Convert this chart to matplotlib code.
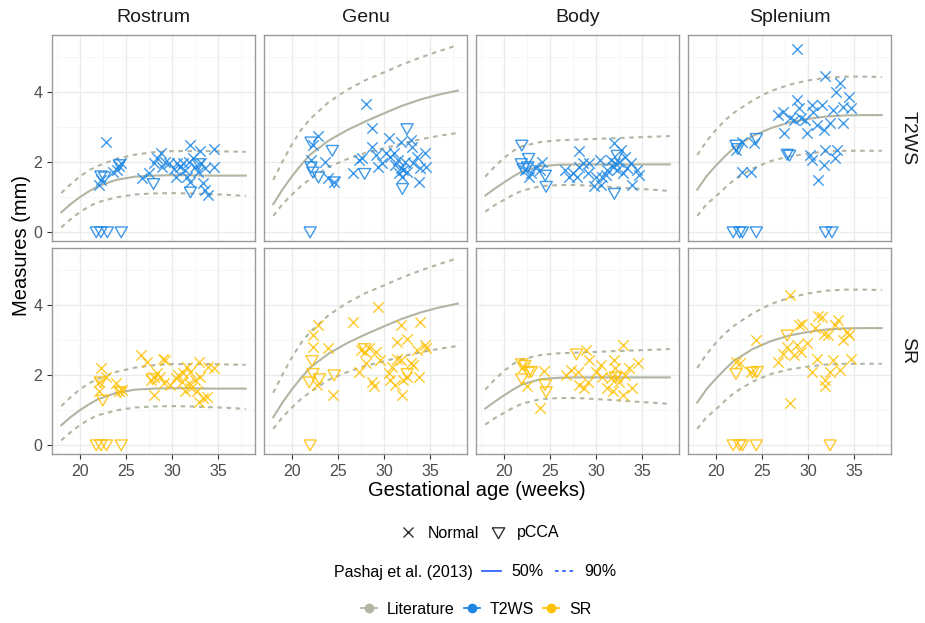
import matplotlib
matplotlib.use("Agg")
import matplotlib.pyplot as plt
from matplotlib.lines import Line2D

plt.rcParams['font.family'] = ['Liberation Sans', 'DejaVu Sans']

# literature curves (Pashaj et al. 2013)
lit_age = [18, 19, 20, 21, 22, 24, 26, 28, 30, 32, 34, 36, 38]
rostrum_lit_mid = [0.55, 0.78, 0.98, 1.15, 1.30, 1.48, 1.57, 1.60, 1.61, 1.61, 1.60, 1.60, 1.60]
rostrum_lit_hi = [1.10, 1.35, 1.57, 1.75, 1.88, 2.08, 2.20, 2.27, 2.30, 2.30, 2.30, 2.29, 2.28]
rostrum_lit_lo = [0.12, 0.35, 0.55, 0.72, 0.84, 0.98, 1.06, 1.09, 1.10, 1.09, 1.07, 1.05, 1.02]
genu_lit_mid = [0.78, 1.20, 1.57, 1.90, 2.20, 2.60, 2.90, 3.15, 3.38, 3.60, 3.78, 3.92, 4.03]
genu_lit_hi = [1.48, 2.00, 2.48, 2.90, 3.22, 3.70, 4.05, 4.33, 4.55, 4.78, 4.98, 5.16, 5.33]
genu_lit_lo = [0.45, 0.78, 1.05, 1.30, 1.50, 1.85, 2.07, 2.25, 2.38, 2.52, 2.64, 2.74, 2.82]
body_lit_mid = [1.03, 1.22, 1.40, 1.57, 1.72, 1.87, 1.91, 1.92, 1.92, 1.92, 1.92, 1.92, 1.92]
body_lit_hi = [1.57, 1.85, 2.10, 2.30, 2.44, 2.56, 2.61, 2.63, 2.65, 2.67, 2.69, 2.71, 2.73]
body_lit_lo = [0.57, 0.75, 0.90, 1.05, 1.17, 1.30, 1.33, 1.33, 1.30, 1.27, 1.23, 1.20, 1.16]
splenium_lit_mid = [1.20, 1.58, 1.88, 2.15, 2.40, 2.73, 2.96, 3.12, 3.22, 3.29, 3.32, 3.33, 3.33]
splenium_lit_hi = [2.19, 2.58, 2.90, 3.18, 3.40, 3.75, 4.02, 4.20, 4.32, 4.40, 4.43, 4.43, 4.42]
splenium_lit_lo = [0.45, 0.78, 1.00, 1.25, 1.48, 1.80, 2.02, 2.15, 2.23, 2.29, 2.31, 2.31, 2.31]

# T2WS measurements
rostrum_t2ws_normal_age = [22.9, 22.1, 22.3, 23.6, 24.0, 24.3, 24.5, 26.8, 27.5, 28.0, 28.4, 28.8, 28.9,
                           29.3, 29.7, 30.2, 30.4, 30.5, 30.9, 31.25, 31.4, 31.6, 31.8, 32.0, 32.0, 32.3,
                           32.5, 32.8, 33.0, 33.1, 33.4, 33.6, 33.6, 33.9, 34.6, 34.6]
rostrum_t2ws_normal_mm = [2.57, 1.33, 1.48, 1.69, 1.76, 1.88, 1.95, 1.52, 1.67, 1.95, 2.10, 2.24, 1.86,
                          2.00, 1.95, 1.78, 1.57, 1.95, 1.86, 1.95, 1.76, 1.57, 2.00, 2.48, 1.43, 2.10,
                          1.86, 1.71, 2.29, 1.95, 1.38, 1.81, 1.19, 1.05, 1.86, 2.35]
rostrum_t2ws_pcca_age = [21.8, 22.3, 23.0, 24.5, 22.3, 22.7, 24.3, 28.0, 32.0, 32.9]
rostrum_t2ws_pcca_mm = [0.0, 0.0, 0.0, 0.0, 1.60, 1.57, 1.92, 1.38, 1.14, 1.95]

genu_t2ws_normal_age = [22.9, 22.3, 22.1, 23.6, 23.9, 24.6, 26.6, 27.3, 27.6, 28.1, 28.75, 28.75, 29.1,
                        29.4, 29.8, 30.2, 30.5, 30.7, 31.1, 31.25, 31.5, 31.8, 31.8, 32.0, 32.3, 32.5,
                        32.9, 33.0, 33.2, 33.6, 33.75, 33.9, 34.5, 34.6, 31.6, 32.1]
genu_t2ws_normal_mm = [2.73, 2.48, 2.05, 2.00, 1.52, 1.43, 1.67, 2.05, 2.10, 3.65, 2.95, 2.43, 2.19,
                       1.86, 1.95, 2.24, 2.67, 2.14, 2.24, 1.90, 2.05, 2.57, 1.81, 1.57, 2.00, 1.71,
                       2.62, 2.43, 1.95, 2.14, 1.43, 1.81, 2.24, 1.86, 1.67, 1.76]
genu_t2ws_pcca_age = [22.0, 22.1, 22.1, 22.3, 22.9, 24.4, 24.6, 27.9, 32.5, 32.0]
genu_t2ws_pcca_mm = [0.0, 2.57, 1.86, 1.71, 1.57, 2.33, 1.43, 1.67, 2.95, 1.24]

body_t2ws_normal_age = [22.3, 22.7, 23.0, 23.4, 24.1, 23.9, 26.6, 27.1, 27.5, 27.9, 28.2, 28.2, 28.6,
                        29.1, 29.3, 29.8, 30.0, 30.4, 30.5, 30.7, 31.1, 31.25, 31.6, 31.8, 32.0, 32.1,
                        32.3, 32.7, 32.9, 33.2, 33.4, 33.75, 33.9, 34.5, 34.7, 32.5]
body_t2ws_normal_mm = [1.76, 1.57, 1.67, 1.86, 2.00, 1.76, 1.76, 1.57, 1.67, 1.57, 2.29, 1.86, 1.95,
                       1.67, 1.95, 1.29, 1.57, 2.05, 1.33, 1.57, 1.62, 1.76, 2.05, 1.86, 2.52, 1.95,
                       1.76, 2.33, 1.67, 2.14, 1.81, 1.95, 1.33, 1.76, 1.62, 2.00]
body_t2ws_pcca_age = [21.96, 21.9, 22.1, 22.7, 22.6, 24.5, 24.6, 32.0, 32.3]
body_t2ws_pcca_mm = [2.48, 1.95, 1.81, 2.10, 1.86, 1.62, 1.30, 1.10, 2.19]

splenium_t2ws_normal_age = [28.8, 31.9, 33.5, 33.0, 34.5, 34.7, 33.8, 28.8, 29.0, 26.7, 27.3, 28.1, 29.2,
                            28.5, 30.4, 30.6, 31.5, 31.0, 31.7, 32.4, 32.75, 33.8, 27.4, 29.9, 29.7,
                            22.9, 24.2, 22.9, 23.8, 30.25, 30.4, 31.9, 33.1, 32.9, 31.7, 31.1, 22.2]
splenium_t2ws_normal_mm = [5.22, 4.45, 4.24, 4.00, 3.86, 3.52, 3.57, 3.76, 3.52, 3.33, 3.43, 3.24, 3.24,
                           3.19, 3.62, 3.43, 3.62, 3.05, 2.90, 3.10, 3.48, 3.10, 2.81, 2.81, 3.19,
                           2.57, 2.52, 1.71, 1.71, 2.19, 2.05, 2.33, 2.33, 2.10, 1.90, 1.48, 2.33]
splenium_t2ws_pcca_age = [21.9, 22.6, 22.9, 24.4, 31.9, 32.6, 22.2, 22.4, 24.4, 27.75, 28.0]
splenium_t2ws_pcca_mm = [0.0, 0.0, 0.0, 0.0, 0.0, 0.0, 2.48, 2.38, 2.67, 2.22, 2.19]

# SR measurements
rostrum_sr_normal_age = [22.3, 22.1, 22.1, 22.9, 23.9, 24.3, 24.6, 26.6, 27.3, 27.7, 28.0, 28.0, 28.4,
                         28.75, 29.0, 29.2, 29.1, 29.8, 30.4, 30.7, 31.1, 31.25, 31.4, 31.6, 31.8, 32.0,
                         32.1, 32.5, 32.7, 32.9, 33.0, 32.9, 33.4, 33.75, 33.9, 34.6]
rostrum_sr_normal_mm = [2.18, 1.80, 1.52, 1.94, 1.75, 1.52, 1.56, 2.56, 2.37, 1.85, 1.94, 1.42, 2.04,
                        1.94, 2.46, 2.41, 1.75, 1.70, 1.89, 1.99, 1.80, 2.04, 1.52, 2.23, 1.75, 2.08,
                        1.61, 1.85, 1.52, 2.37, 1.94, 1.23, 1.33, 1.37, 2.23, 2.18]
rostrum_sr_pcca_age = [21.8, 22.3, 22.9, 24.5, 22.25, 22.5, 24.4, 27.9]
rostrum_sr_pcca_mm = [0.0, 0.0, 0.0, 0.0, 1.80, 1.28, 1.52, 1.89]

genu_sr_normal_age = [22.3, 22.9, 22.3, 23.9, 24.5, 22.7, 26.6, 27.3, 27.5, 27.9, 28.0, 28.4, 28.75,
                      28.9, 29.4, 29.1, 29.6, 30.5, 30.7, 30.9, 31.25, 31.4, 31.8, 31.8, 32.0, 32.1,
                      32.5, 32.5, 32.9, 33.2, 33.6, 33.75, 33.9, 34.5, 34.6, 31.4]
genu_sr_normal_mm = [3.12, 3.43, 2.79, 2.75, 1.42, 1.70, 3.50, 2.08, 2.70, 2.65, 2.32, 2.75, 1.80,
                     1.66, 3.93, 2.65, 2.41, 2.04, 1.85, 2.23, 1.70, 2.94, 3.41, 2.41, 1.42, 1.85,
                     3.03, 1.94, 2.32, 2.27, 2.70, 1.94, 3.50, 2.84, 2.75, 2.46]
genu_sr_pcca_age = [22.0, 22.2, 21.9, 22.3, 23.0, 24.6, 27.9, 32.5]
genu_sr_pcca_mm = [0.0, 2.41, 1.80, 2.04, 1.89, 2.00, 2.75, 2.04]

body_sr_normal_age = [22.1, 22.5, 24.4, 23.9, 26.8, 27.3, 28.0, 28.2, 28.75, 28.9, 29.3, 29.1, 30.0,
                      30.5, 30.7, 31.25, 31.6, 31.8, 32.0, 32.1, 32.3, 32.5, 32.9, 32.9, 33.2, 33.6,
                      33.9, 34.6]
body_sr_normal_mm = [2.23, 1.66, 2.10, 1.04, 1.99, 2.13, 2.08, 1.70, 1.61, 2.70, 2.41, 1.80, 2.08,
                     2.27, 1.94, 1.61, 1.89, 1.52, 2.41, 2.18, 1.94, 1.80, 1.42, 2.84, 1.99, 2.18,
                     1.61, 2.32]
body_sr_pcca_age = [21.96, 22.3, 22.7, 23.0, 21.96, 24.5, 24.6, 27.9, 32.1]
body_sr_pcca_mm = [2.32, 2.27, 2.08, 2.10, 1.89, 1.72, 1.52, 2.60, 1.94]

splenium_sr_normal_age = [28.1, 28.1, 24.4, 22.2, 22.6, 23.8, 26.7, 27.3, 27.75, 28.5, 28.8, 29.0, 29.4,
                          29.2, 29.9, 30.4, 30.8, 31.0, 31.1, 31.5, 31.7, 31.9, 31.9, 32.2, 32.4, 32.75,
                          32.9, 33.3, 33.5, 33.8, 34.2, 34.5, 34.7]
splenium_sr_normal_mm = [4.28, 1.18, 3.00, 2.37, 2.32, 2.08, 2.37, 2.60, 2.79, 2.56, 2.84, 3.41, 3.46,
                         2.65, 2.89, 2.08, 3.32, 2.46, 3.69, 3.65, 3.17, 1.85, 1.66, 3.12, 2.08, 2.41,
                         3.41, 3.55, 2.13, 2.98, 3.22, 3.12, 2.46]
splenium_sr_pcca_age = [21.9, 22.6, 22.9, 24.4, 32.4, 22.2, 24.0, 24.5, 27.75]
splenium_sr_pcca_mm = [0.0, 0.0, 0.0, 0.0, 0.0, 2.04, 2.08, 2.10, 3.14]

regions = ["Rostrum", "Genu", "Body", "Splenium"]
methods = ["T2WS", "SR"]
lit_curves = {
    "Rostrum": (rostrum_lit_mid, rostrum_lit_lo, rostrum_lit_hi),
    "Genu": (genu_lit_mid, genu_lit_lo, genu_lit_hi),
    "Body": (body_lit_mid, body_lit_lo, body_lit_hi),
    "Splenium": (splenium_lit_mid, splenium_lit_lo, splenium_lit_hi),
}
points = {
    ("Rostrum", "T2WS"): (rostrum_t2ws_normal_age, rostrum_t2ws_normal_mm, rostrum_t2ws_pcca_age, rostrum_t2ws_pcca_mm),
    ("Genu", "T2WS"): (genu_t2ws_normal_age, genu_t2ws_normal_mm, genu_t2ws_pcca_age, genu_t2ws_pcca_mm),
    ("Body", "T2WS"): (body_t2ws_normal_age, body_t2ws_normal_mm, body_t2ws_pcca_age, body_t2ws_pcca_mm),
    ("Splenium", "T2WS"): (splenium_t2ws_normal_age, splenium_t2ws_normal_mm, splenium_t2ws_pcca_age, splenium_t2ws_pcca_mm),
    ("Rostrum", "SR"): (rostrum_sr_normal_age, rostrum_sr_normal_mm, rostrum_sr_pcca_age, rostrum_sr_pcca_mm),
    ("Genu", "SR"): (genu_sr_normal_age, genu_sr_normal_mm, genu_sr_pcca_age, genu_sr_pcca_mm),
    ("Body", "SR"): (body_sr_normal_age, body_sr_normal_mm, body_sr_pcca_age, body_sr_pcca_mm),
    ("Splenium", "SR"): (splenium_sr_normal_age, splenium_sr_normal_mm, splenium_sr_pcca_age, splenium_sr_pcca_mm),
}

colors = {"Literature": "#b3b5a3", "T2WS": "#1e88e5", "SR": "#ffc107"}
# ggplot-like open triangle (point down), wider than tall
tri_down = [(-1.0, 0.75), (1.0, 0.75), (0.0, -1.0), (-1.0, 0.75)]

W, H = 925, 623
fig = plt.figure(figsize=(W / 100, H / 100), dpi=100)


def px_axes(left, top, width, height):
    return fig.add_axes([left / W, 1 - (top + height) / H, width / W, height / H])


for r, method in enumerate(methods):
    for c, region in enumerate(regions):
        ax = px_axes(52 + 212 * c, 35 + 213 * r, 203, 206)
        ax.set_xlim(17, 39)
        ax.set_ylim(-0.27, 5.62)
        ax.set_xticks([20, 25, 30, 35])
        ax.set_xticks([17.5, 22.5, 27.5, 32.5, 37.5], minor=True)
        ax.set_yticks([0, 2, 4])
        ax.set_yticks([1, 3, 5], minor=True)
        ax.grid(which='major', color='#ebebeb', lw=1.0)
        ax.grid(which='minor', color='#f5f5f5', lw=0.6)
        ax.set_axisbelow(True)
        for s in ax.spines.values():
            s.set_color('#9a9a9a')
            s.set_linewidth(1.0)
        ax.tick_params(which='minor', length=0)
        ax.tick_params(which='major', length=3.5, color='#333333', labelsize=11.5,
                       labelcolor='#4d4d4d', width=0.8)
        if c > 0:
            ax.tick_params(axis='y', which='major', length=0, labelleft=False)
        if r == 0:
            ax.tick_params(axis='x', which='major', length=0, labelbottom=False)

        mid, lo, hi = lit_curves[region]
        lc = colors["Literature"]
        ax.plot(lit_age, mid, color=lc, lw=1.5, zorder=2)
        ax.plot(lit_age, lo, color=lc, lw=1.5, dashes=(2.2, 2.2), zorder=2)
        ax.plot(lit_age, hi, color=lc, lw=1.5, dashes=(2.2, 2.2), zorder=2)

        na, nm, pa, pm = points[(region, method)]
        col = colors[method]
        ax.scatter(na, nm, marker='x', s=56, linewidths=1.0, color=col, alpha=0.85, zorder=3)
        ax.scatter(pa, pm, marker=tri_down, s=78, linewidths=1.0, facecolors='none',
                   edgecolors=col, alpha=0.85, zorder=3)

        if r == 0:
            ax.text(0.5, 1 + 17.5 / 206, region, transform=ax.transAxes, ha='center', va='center',
                    fontsize=14, color='#1a1a1a')
        if c == 3:
            ax.text(1 + 17 / 203, 0.5, method, transform=ax.transAxes, ha='center', va='center',
                    rotation=-90, fontsize=14, color='#1a1a1a')

fig.text(22 / W, 1 - 245 / H, "Measures (mm)", rotation=90, ha='center', va='center', fontsize=14.5)
fig.text(477 / W, 1 - 490 / H, "Gestational age (weeks)", ha='center', va='center', fontsize=14.5)

# legends
shape_handles = [
    Line2D([], [], ls='none', marker='x', color='#333333', ms=7.5, mew=1.0),
    Line2D([], [], ls='none', marker=tri_down, mfc='none', mec='#333333', ms=9, mew=1.0),
]
fig.legend(handles=shape_handles, labels=["Normal", "pCCA"], loc='center',
           bbox_to_anchor=(479 / W, 1 - 533 / H), ncol=2, frameon=False, fontsize=11.5,
           handlelength=1.2, handletextpad=0.6, columnspacing=0.6, borderpad=0, borderaxespad=0)

fig.text(473 / W, 1 - 572 / H, "Pashaj et al. (2013)", ha='right', va='center', fontsize=11.5)
pct_handles = [
    Line2D([], [], color='#3366ff', lw=1.3),
    Line2D([], [], color='#3366ff', lw=1.3, dashes=(2.0, 2.0)),
]
fig.legend(handles=pct_handles, labels=["50%", "90%"], loc='center left',
           bbox_to_anchor=(482 / W, 1 - 572 / H), ncol=2, frameon=False, fontsize=11.5,
           handlelength=1.2, handletextpad=0.65, columnspacing=0.7, borderpad=0, borderaxespad=0)

src_handles = [Line2D([], [], color=colors[k], lw=1.3, marker='o', ms=6)
               for k in ["Literature", "T2WS", "SR"]]
fig.legend(handles=src_handles, labels=["Literature", "T2WS", "SR"], loc='center',
           bbox_to_anchor=(476 / W, 1 - 609 / H), ncol=3, frameon=False, fontsize=11.5,
           handlelength=1.0, handletextpad=0.6, columnspacing=0.6, borderpad=0, borderaxespad=0)

fig.savefig("out.png", dpi=100)
